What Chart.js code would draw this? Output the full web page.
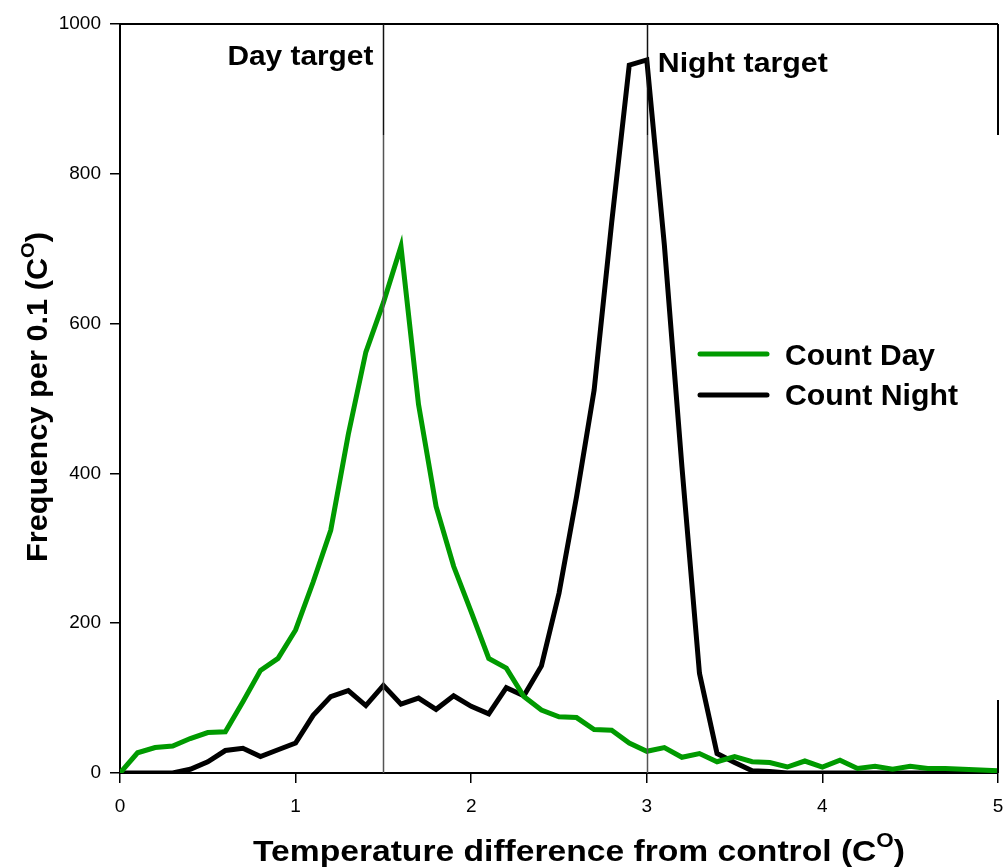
<!DOCTYPE html>
<html>
<head>
<meta charset="utf-8">
<script src="https://cdn.jsdelivr.net/npm/chart.js@4.4.1/dist/chart.umd.min.js"></script>
<style>
html,body{margin:0;padding:0;background:#fff;}
#wrap{width:1003px;height:867px;}
</style>
</head>
<body>
<div id="wrap"><canvas id="c" width="1003" height="867"></canvas></div>
<script>
// Temperature difference bins (C°)
const tempBins = [0.0,0.1,0.2,0.3,0.4,0.5,0.6,0.7,0.8,0.9,
  1.0,1.1,1.2,1.3,1.4,1.5,1.6,1.7,1.8,1.9,
  2.0,2.1,2.2,2.3,2.4,2.5,2.6,2.7,2.8,2.9,
  3.0,3.1,3.2,3.3,3.4,3.5,3.6,3.7,3.8,3.9,
  4.0,4.1,4.2,4.3,4.4,4.5,4.6,4.7,4.8,4.9,5.0];
const countDay = [0,27,34,36,46,54,55,95,137,153,
  191,255,324,452,562,628,703,492,356,276,
  215,153,140,102,84,75,74,58,57,40,
  29,34,21,26,15,22,15,14,8,16,
  8,17,6,9,5,9,6,6,5,4,3];
const countNight = [0,0,0,0,5,15,30,33,22,31,
  40,77,102,110,90,117,92,100,85,103,
  89,79,114,103,143,240,369,511,735,945,
  952,705,409,133,26,14,3,2,0,0,
  0,0,0,0,0,0,0,0,0,0,0];
const seriesNames = ["Count Day", "Count Night"];
const xTicks = [0,1,2,3,4,5];
const yTicks = [0,200,400,600,800,1000];
const targets = [{value:1.5, label:"Day target"}, {value:3.0, label:"Night target"}];
const xTitle = ["Temperature difference from control (C", "O", ")"];
const yTitle = ["Frequency per 0.1 (C", "O", ")"];

const FF = '"Liberation Sans", Arial, Helvetica, sans-serif';

function toPts(ys){ return tempBins.map((x,i)=>({x:x, y:ys[i]})); }

// draw text horizontally stretched to a given width
function fitText(ctx, text, font, x, y, width, align){
  ctx.font = font; ctx.textAlign='left'; ctx.textBaseline='alphabetic';
  const w = ctx.measureText(text).width; const sx = width / w;
  const x0 = align==='right' ? x - width : (align==='center' ? x - width/2 : x);
  ctx.save(); ctx.translate(x0, y); ctx.scale(sx, 1); ctx.fillText(text, 0, 0); ctx.restore();
}

function drawSup(ctx, parts, mainFont, supFont, raise, cx, y, width){
  ctx.textAlign='left'; ctx.textBaseline='alphabetic';
  ctx.font = mainFont; const w1 = ctx.measureText(parts[0]).width;
  ctx.font = supFont; const w2 = ctx.measureText(parts[1]).width;
  ctx.font = mainFont; const w3 = ctx.measureText(parts[2]).width;
  const tot = w1+w2+w3; const sx = width/tot;
  ctx.save(); ctx.translate(cx - width/2, y); ctx.scale(sx,1);
  ctx.font = mainFont; ctx.fillText(parts[0], 0, 0);
  ctx.font = supFont; ctx.fillText(parts[1], w1, -raise);
  ctx.font = mainFont; ctx.fillText(parts[2], w1+w2, 0);
  ctx.restore();
}

const decor = {
  id:'decor',
  afterDatasetsDraw(chart){
    const ctx = chart.ctx, a = chart.chartArea;
    const xs = chart.scales.x;
    ctx.save();
    // frame pieces
    ctx.strokeStyle='#000'; ctx.lineWidth=2;
    ctx.beginPath(); ctx.moveTo(a.left, a.top); ctx.lineTo(a.right, a.top); ctx.stroke();
    ctx.beginPath(); ctx.moveTo(a.right, a.top); ctx.lineTo(a.right, a.top+111); ctx.stroke();
    ctx.beginPath(); ctx.moveTo(a.right, a.top+676); ctx.lineTo(a.right, a.bottom); ctx.stroke();
    // target lines
    targets.forEach(t=>{
      const px = Math.round(xs.getPixelForValue(t.value))+0.5;
      ctx.lineWidth=1.5;
      ctx.strokeStyle='#111';
      ctx.beginPath(); ctx.moveTo(px, a.top); ctx.lineTo(px, a.top+111); ctx.stroke();
      ctx.strokeStyle='#555';
      ctx.beginPath(); ctx.moveTo(px, a.top+111); ctx.lineTo(px, a.bottom); ctx.stroke();
    });
    // target labels
    ctx.fillStyle='#000';
    const d = xs.getPixelForValue(targets[0].value);
    fitText(ctx, targets[0].label, 'bold 28px '+FF, d-10, 65, 146, 'right');
    const n = xs.getPixelForValue(targets[1].value);
    fitText(ctx, targets[1].label, 'bold 28px '+FF, n+11, 72, 170, 'left');
    // legend
    const sets = chart.data.datasets;
    const ly = [354, 395], lb=[365, 405], lw=[150, 173];
    sets.forEach((s,i)=>{
      ctx.strokeStyle=s.borderColor; ctx.lineWidth=5; ctx.lineCap='round';
      ctx.beginPath(); ctx.moveTo(700, ly[i]); ctx.lineTo(767, ly[i]); ctx.stroke();
      ctx.fillStyle='#000';
      fitText(ctx, s.label, 'bold 29px '+FF, 785, lb[i], lw[i], 'left');
    });
    // axis titles
    ctx.fillStyle='#000';
    drawSup(ctx, xTitle, 'bold 30px '+FF, 'bold 20px '+FF, 14, 579, 861, 652);
    ctx.save();
    ctx.translate(47, 397); ctx.rotate(-Math.PI/2);
    drawSup(ctx, yTitle, 'bold 29px '+FF, 'bold 19px '+FF, 13, 0, 0, 330);
    ctx.restore();
    ctx.restore();
  }
};

const tickFont = {family: FF, size: 19};
new Chart(document.getElementById('c'), {
  type:'line',
  data:{
    datasets:[
      {label:seriesNames[0], data:toPts(countDay), borderColor:'#009a00', backgroundColor:'#009a00', borderWidth:5, pointRadius:0, tension:0, fill:false},
      {label:seriesNames[1], data:toPts(countNight), borderColor:'#000000', backgroundColor:'#000000', borderWidth:5, pointRadius:0, tension:0, fill:false}
    ]
  },
  options:{
    responsive:false, animation:false, devicePixelRatio:1,
    layout:{padding:{top:24, right:5, left:0, bottom:0}},
    plugins:{legend:{display:false}, tooltip:{enabled:false}},
    scales:{
      x:{type:'linear', min:0, max:5,
        afterBuildTicks: s=>{ s.ticks = xTicks.map(v=>({value:v})); },
        ticks:{font:tickFont, color:'#000', padding:12, maxRotation:0, callback:v=>String(v)},
        grid:{drawOnChartArea:false, drawTicks:true, tickLength:10, color:'#000', lineWidth:1.5},
        border:{display:true, color:'#000', width:2},
        afterFit: s=>{ s.height = 94; s.paddingRight = 0; s.paddingLeft = 0; }
      },
      y:{type:'linear', min:0, max:1000,
        afterBuildTicks: s=>{ s.ticks = yTicks.map(v=>({value:v})); },
        ticks:{font:tickFont, color:'#000', padding:9, callback:v=>String(v)},
        grid:{drawOnChartArea:false, drawTicks:true, tickLength:10, color:'#000', lineWidth:1.5},
        border:{display:true, color:'#000', width:2},
        afterFit: s=>{ s.width = 120; s.paddingTop = 0; s.paddingBottom = 0; }
      }
    }
  },
  plugins:[decor]
});
</script>
</body>
</html>
